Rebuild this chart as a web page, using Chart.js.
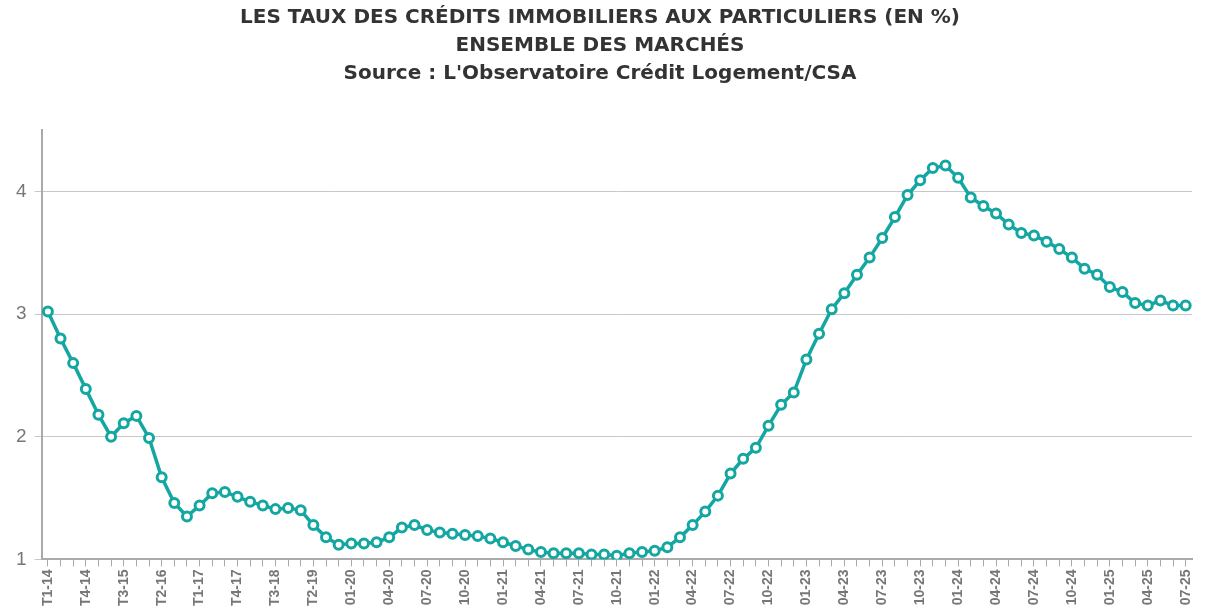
<!DOCTYPE html>
<html>
<head>
<meta charset="utf-8">
<script src="https://cdn.jsdelivr.net/npm/chart.js@4"></script>
<style>
body{margin:0;background:#fff;}
#wrap{width:1210px;height:611px;}
</style>
</head>
<body>
<div id="wrap"><canvas id="myChart" width="1210" height="611"></canvas></div>
<script>
// quarters 2014-2019 then months 2020-2025
var quarterLabels = [];
for (var y = 14; y <= 19; y++) for (var q = 1; q <= 4; q++) quarterLabels.push('T' + q + '-' + y);
var monthLabels = [];
for (var yy = 20; yy <= 25; yy++) for (var m = 1; m <= 12; m++) {
  if (yy == 25 && m > 7) break;
  monthLabels.push((m < 10 ? '0' + m : '' + m) + '-' + yy);
}
var categories = quarterLabels.concat(monthLabels);

var quarterRates = [3.02,2.80,2.60,2.39,2.18,2.00,2.11,2.17,1.99,1.67,1.46,1.35,
  1.44,1.54,1.55,1.51,1.47,1.44,1.41,1.42,1.40,1.28,1.18,1.12];
var monthRates = [1.13,1.13,1.14,1.18,1.26,1.28,1.24,1.22,1.21,1.20,1.19,1.17,
  1.14,1.11,1.08,1.06,1.05,1.05,1.05,1.04,1.04,1.03,1.05,1.06,
  1.07,1.10,1.18,1.28,1.39,1.52,1.70,1.82,1.91,2.09,2.26,2.36,
  2.63,2.84,3.04,3.17,3.32,3.46,3.62,3.79,3.97,4.09,4.19,4.21,
  4.11,3.95,3.88,3.82,3.73,3.66,3.64,3.59,3.53,3.46,3.37,3.32,
  3.22,3.18,3.09,3.07,3.11,3.07,3.07];
var rates = quarterRates.concat(monthRates);

var yTicks = [1, 2, 3, 4];

var element = document.getElementById('myChart').getContext('2d');
var chart = new Chart(element, {
  type: 'line',
  data: {
    labels: categories,
    datasets: [{
      data: rates,
      borderColor: '#14a7a2',
      borderWidth: 3.5,
      pointBackgroundColor: '#ffffff',
      pointBorderColor: '#14a7a2',
      pointBorderWidth: 3,
      pointRadius: 4.5,
      tension: 0
    }]
  },
  options: {
    responsive: false,
    animation: false,
    layout: {padding: {left: 8, right: 18, top: 4, bottom: 2}},
    plugins: {
      legend: {display: false},
      tooltip: {enabled: false},
      title: {
        display: true,
        text: ['LES TAUX DES CRÉDITS IMMOBILIERS AUX PARTICULIERS (EN %)', 'ENSEMBLE DES MARCHÉS', "Source : L'Observatoire Crédit Logement/CSA"],
        color: '#333333',
        font: {family: 'DejaVu Sans', size: 20, weight: 'bold', lineHeight: 1.4},
        padding: {top: 0, bottom: 42}
      }
    },
    scales: {
      x: {
        offset: true,
        grid: {drawOnChartArea: false, color: '#aaaaaa', tickLength: 7},
        border: {color: '#aaaaaa', width: 2},
        ticks: {
          autoSkip: false, maxRotation: 90, minRotation: 90,
          color: '#777777', font: {family: 'Liberation Sans', size: 14, weight: 'bold'},
          callback: function(v, i) { return i % 3 == 0 ? categories[i] : ''; }
        }
      },
      y: {
        min: 1, max: 4.5,
        afterBuildTicks: function(axis) { axis.ticks = yTicks.map(function(v){ return {value: v}; }); },
        grid: {color: '#c8c8c8', tickLength: 7, lineWidth: 1},
        border: {color: '#aaaaaa', width: 2},
        ticks: {color: '#777777', font: {family: 'Liberation Sans', size: 19}, padding: 8}
      }
    }
  }
});
</script>
</body>
</html>
